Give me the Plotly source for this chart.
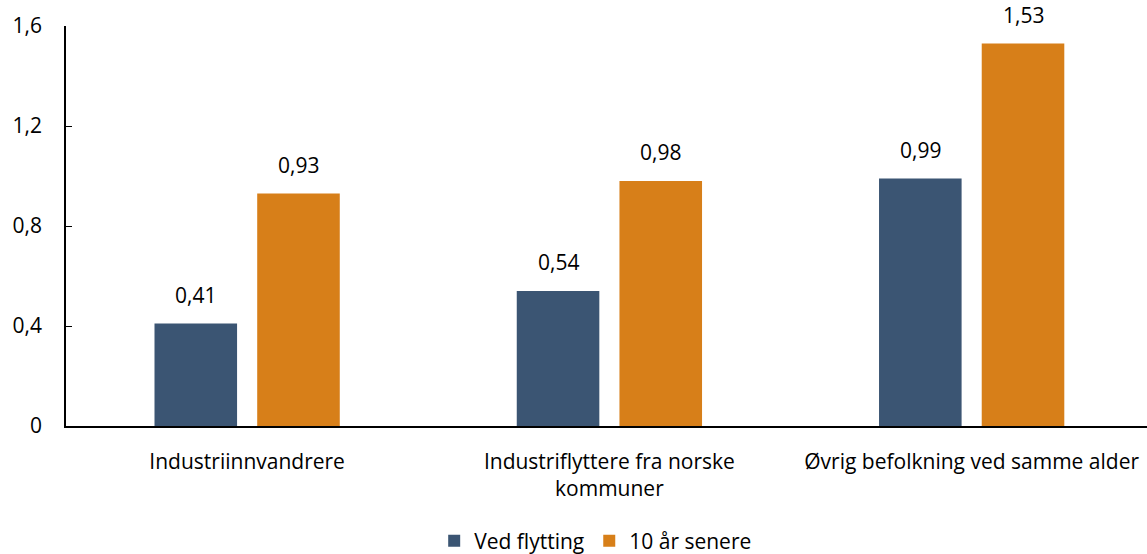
import plotly.graph_objects as go

categories = ["Industriinnvandrere", "Industriflyttere fra norske<br>kommuner", "Øvrig befolkning ved samme alder"]
ved_flytting = [0.41, 0.54, 0.99]
ti_aar_senere = [0.93, 0.98, 1.53]
y_ticks = [0, 0.4, 0.8, 1.2, 1.6]

font = "'Open Sans', Lato, sans-serif"
fsize = 21

# plot area geometry (px) used for label offsets
plot_w = 1147 - 66
x_range = [-0.5, 2.484]  # right part of the last category runs past the window edge
cat_w = plot_w / (x_range[1] - x_range[0])
bargap = 0.433
bargroupgap = 0.196
slot = cat_w * (1 - bargap) / 2

fig = go.Figure()
fig.add_trace(go.Bar(x=categories, y=ved_flytting, name="Ved flytting",
                     marker=dict(color="#3B5573", line=dict(width=0))))
fig.add_trace(go.Bar(x=categories, y=ti_aar_senere, name="10 år senere",
                     marker=dict(color="#D77F19", line=dict(width=0))))

for series, shift in ((ved_flytting, -slot / 2), (ti_aar_senere, slot / 2)):
    for cat, val in zip(categories, series):
        fig.add_annotation(x=cat, y=val, text=f"{val:.2f}".replace(".", ","),
                           showarrow=False, xshift=shift, yshift=13, yanchor="bottom",
                           font=dict(size=fsize, color="#000000"))

fig.update_layout(
    width=1147, height=554,
    margin=dict(l=66, r=0, t=26, b=128, autoexpand=False),
    paper_bgcolor="white", plot_bgcolor="white",
    font=dict(family=font, size=fsize, color="#000000"),
    separators=",.",
    barmode="group", bargap=bargap, bargroupgap=bargroupgap,
    showlegend=True,
    legend=dict(orientation="h", x=0.49, xanchor="center", y=-0.2875, yanchor="middle",
                font=dict(size=fsize), itemwidth=30, traceorder="normal"),
    xaxis=dict(range=x_range, showline=True, linecolor="#000000", linewidth=1.5,
               showgrid=False, ticks="", ticklabelstandoff=16, automargin=False),
    yaxis=dict(range=[0, 1.6], tickvals=y_ticks, showline=True, linecolor="#000000",
               linewidth=1.5, showgrid=False, zeroline=False, ticks="inside", ticklen=6,
               tickcolor="#000000", ticklabelstandoff=18, automargin=False),
)

# the page body has a default 8px margin; remove it so the figure fills the window
fig.write_html("out.html", config={"displayModeBar": False},
               post_script="document.body.style.margin='0';")
